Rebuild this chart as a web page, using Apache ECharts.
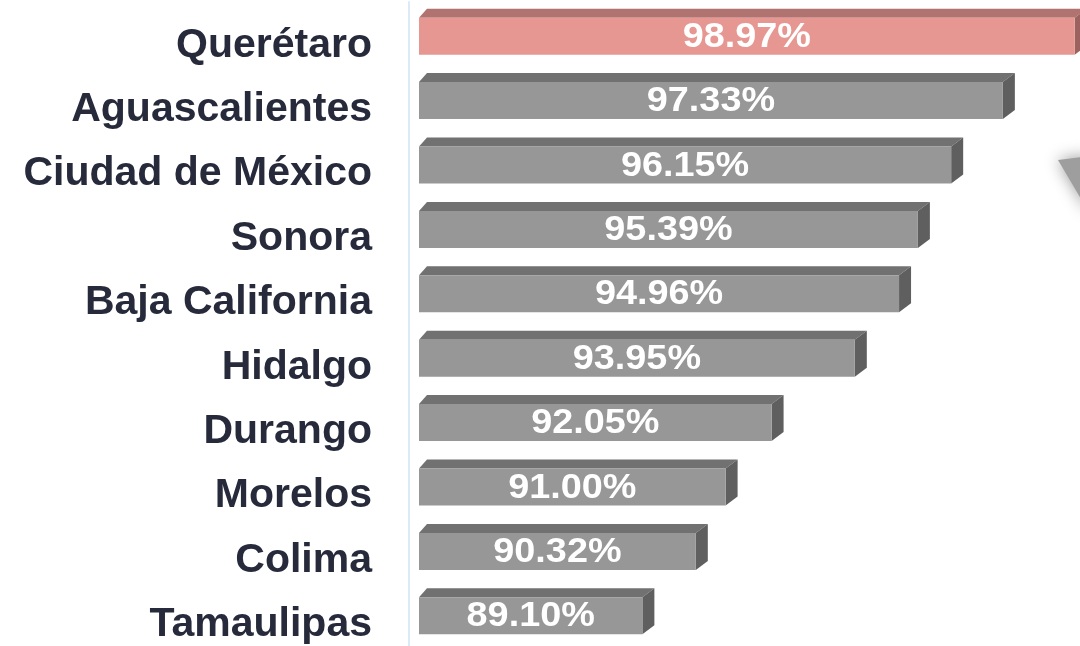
<!DOCTYPE html>
<html>
<head>
<meta charset="utf-8">
<script src="https://cdn.jsdelivr.net/npm/echarts@6/dist/echarts.min.js"></script>
<style>
  html, body { margin: 0; padding: 0; background: #fff; }
  #chart { width: 1080px; height: 646px; }
</style>
</head>
<body>
<div id="chart"></div>
<script>
// data
var states = ['Querétaro', 'Aguascalientes', 'Ciudad de México', 'Sonora', 'Baja California',
              'Hidalgo', 'Durango', 'Morelos', 'Colima', 'Tamaulipas'];
var values = [98.97, 97.33, 96.15, 95.39, 94.96, 93.95, 92.05, 91.00, 90.32, 89.10];
var highlight = 'Querétaro';

var xMin = 84, xMax = 99;

// face colours: front, top, side
var redFaces = ['#e69792', '#b1736f', '#9c625e'];
var grayFaces = ['#979797', '#717171', '#5f5f5f'];

var chart = echarts.init(document.getElementById('chart'));

var barShift = 2;

function renderBar(params, api) {
  var val = api.value(0);
  var idx = api.value(1);
  var start = api.coord([xMin, idx]);
  var end = api.coord([val, idx]);
  var h = 37, dx = 12, dxl = 8, dy = 9;
  var x0 = start[0], x1 = end[0];
  var yc = start[1] + barShift;
  var yT = yc - h / 2, yB = yc + h / 2;
  var faces = states[idx] === highlight ? redFaces : grayFaces;
  return {
    type: 'group',
    children: [
      { type: 'polygon', shape: { points: [[x0, yT], [x0 + dxl, yT - dy], [x1 + dx, yT - dy], [x1, yT]] },
        style: { fill: faces[1] } },
      { type: 'polygon', shape: { points: [[x1, yT], [x1 + dx, yT - dy], [x1 + dx, yB - dy], [x1, yB]] },
        style: { fill: faces[2] } },
      { type: 'rect', shape: { x: x0, y: yT, width: x1 - x0, height: h },
        style: { fill: faces[0] } },
      { type: 'text', x: (x0 + x1) / 2, y: yc + 1, scaleX: 1.08,
        style: {
          text: val.toFixed(2) + '%', fill: '#fff',
          font: 'bold 35px "Liberation Sans", Arial, sans-serif',
          align: 'center', verticalAlign: 'middle',
          shadowColor: 'rgba(0,0,0,0.6)', shadowBlur: 3, shadowOffsetX: 2, shadowOffsetY: 2
        } }
    ]
  };
}

chart.setOption({
  animation: false,
  grid: { left: 419, width: 657, top: 2, height: 644 },
  xAxis: { type: 'value', min: xMin, max: xMax, show: false },
  yAxis: {
    type: 'category',
    data: states,
    inverse: true,
    offset: 10,
    axisLine: { show: true, lineStyle: { color: '#dce9f6', width: 2 } },
    axisTick: { show: false },
    splitLine: { show: false },
    axisLabel: {
      margin: 37,
      color: '#262a3b',
      fontSize: 41,
      fontWeight: 'bold',
      fontFamily: '"Liberation Sans", Arial, sans-serif',
      verticalAlign: 'top',
      lineHeight: 22
    }
  },
  series: [{
    type: 'custom',
    renderItem: renderBar,
    encode: { x: 0, y: 1 },
    data: values.map(function (v, i) { return [v, i]; })
  }],
  graphic: [{
    type: 'polygon',
    shape: { points: [[1058, 160], [1090, 156], [1090, 214]] },
    style: { fill: '#9e9e9e', shadowBlur: 16, shadowColor: 'rgba(0,0,0,0.4)' }
  }]
});
</script>
</body>
</html>
